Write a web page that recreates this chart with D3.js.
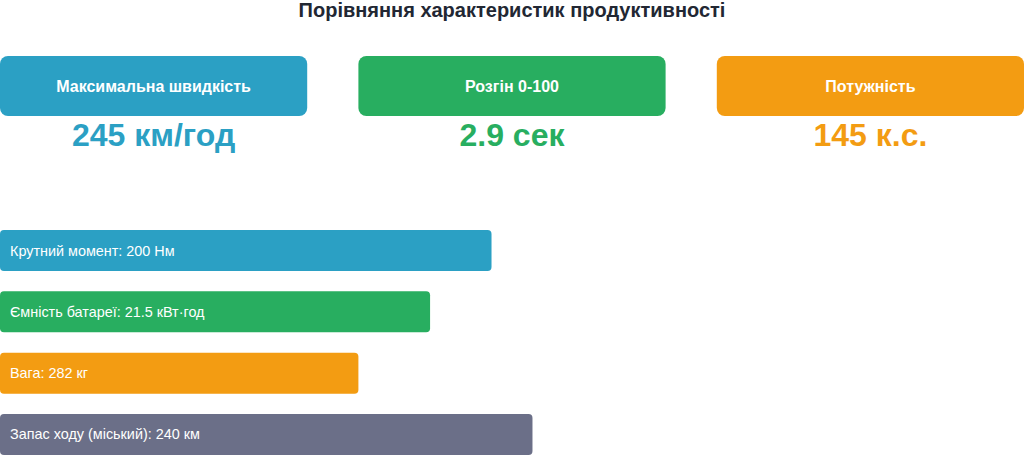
<!DOCTYPE html>
<html><head><meta charset="utf-8">
<script src="https://cdn.jsdelivr.net/npm/d3@7"></script>
<style>html,body{margin:0;padding:0;background:#fff;}svg{display:block;font-family:"Liberation Sans",Arial,sans-serif;}</style>
</head><body>
<script>
const title = "Порівняння характеристик продуктивності";
const cardLabels = ["Максимальна швидкість", "Розгін 0-100", "Потужність"];
const cardValues = ["245 км/год", "2.9 сек", "145 к.с."];
const cardColors = ["#2ba0c4", "#28ae60", "#f39c12"];
const barLabels = ["Крутний момент: 200 Нм", "Ємність батареї: 21.5 кВт·год", "Вага: 282 кг", "Запас ходу (міський): 240 км"];
const barPercents = [48, 42, 35, 52];
const barColors = ["#2ba0c4", "#28ae60", "#f39c12", "#6b6f88"];

const W = 1024, H = 455;
const svg = d3.select("body").append("svg").attr("width", W).attr("height", H);

svg.append("text").attr("x", W/2).attr("y", 17).attr("text-anchor","middle")
  .attr("font-size", 20).attr("font-weight","bold").attr("fill","#222733").text(title);

const cx = d3.scaleBand().domain(cardLabels).range([0, W]).paddingInner(1/7).paddingOuter(0);
const cards = svg.selectAll("g.card").data(cardLabels).join("g").attr("class","card")
  .attr("transform", d => `translate(${cx(d)},0)`);
cards.append("rect").attr("y", 56).attr("width", cx.bandwidth()).attr("height", 60)
  .attr("rx", 8).attr("fill", (d,i) => cardColors[i]);
cards.append("text").attr("x", cx.bandwidth()/2).attr("y", 92).attr("text-anchor","middle")
  .attr("font-size", 16).attr("font-weight","bold").attr("fill","#fff").text(d => d);
cards.append("text").attr("x", cx.bandwidth()/2).attr("y", 146).attr("text-anchor","middle")
  .attr("font-size", 32).attr("font-weight","bold").attr("fill", (d,i) => cardColors[i])
  .text((d,i) => cardValues[i]);

const x = d3.scaleLinear().domain([0, 100]).range([0, W]);
const y = d3.scaleBand().domain(barLabels).range([230, 455]).paddingInner(20.33/61.33).paddingOuter(0);
const bars = svg.selectAll("g.bar").data(barLabels).join("g").attr("class","bar")
  .attr("transform", d => `translate(0,${y(d)})`);
bars.append("rect").attr("x", x(0)).attr("width", (d,i) => x(barPercents[i]) - x(0))
  .attr("height", y.bandwidth()).attr("rx", 4).attr("fill", (d,i) => barColors[i]);
bars.append("text").attr("x", 10).attr("y", y.bandwidth()/2 + 5)
  .attr("font-size", 14.4).attr("fill","#fff").text(d => d);
</script>
</body></html>
